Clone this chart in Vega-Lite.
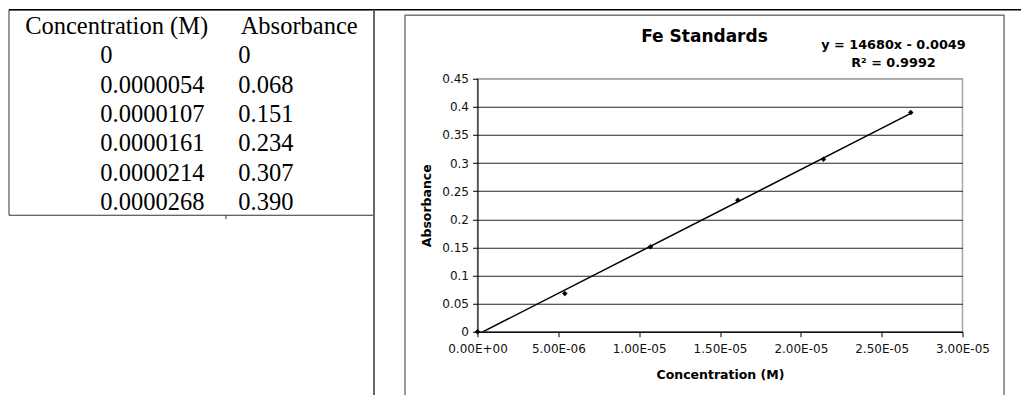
{
  "$schema": "https://vega.github.io/schema/vega-lite/v6.json",
  "padding": {"left": 7.5, "top": 8.75, "right": 0, "bottom": 0},
  "background": "white",
  "width": 485,
  "height": 253,
  "view": {"stroke": "#a6a6a6", "strokeWidth": 1.5},
  "config": {
    "font": "DejaVu Sans",
    "axis": {
      "labelFont": "DejaVu Sans", "labelFontSize": 12, "labelColor": "#111111",
      "titleFont": "DejaVu Sans", "titleFontSize": 12.5, "titleFontWeight": "bold", "titleColor": "black",
      "domainColor": "black", "domainWidth": 1, "tickColor": "black", "tickSize": 5, "tickWidth": 1,
      "labelFlush": false, "labelOverlap": false
    }
  },
  "datasets": {
    "standards": [
      {"conc": 0, "absorbance": 0, "conc_label": "0", "abs_label": "0"},
      {"conc": 0.0000054, "absorbance": 0.068, "conc_label": "0.0000054", "abs_label": "0.068"},
      {"conc": 0.0000107, "absorbance": 0.151, "conc_label": "0.0000107", "abs_label": "0.151"},
      {"conc": 0.0000161, "absorbance": 0.234, "conc_label": "0.0000161", "abs_label": "0.234"},
      {"conc": 0.0000214, "absorbance": 0.307, "conc_label": "0.0000214", "abs_label": "0.307"},
      {"conc": 0.0000268, "absorbance": 0.390, "conc_label": "0.0000268", "abs_label": "0.390"}
    ],
    "headers": [{"header": "Concentration (M)"}, {"header": "Absorbance"}],
    "one": [{"item": "decoration"}]
  },
  "resolve": {"scale": {"x": "independent", "y": "independent"}, "axis": {"x": "independent", "y": "independent"}},
  "layer": [
    {
      "layer": [
        {
          "data": {"name": "standards"},
          "mark": {"type": "text", "align": "left", "baseline": "middle", "font": "Liberation Serif", "fontSize": 24.5, "color": "black", "dy": 2.5},
          "encoding": {
            "x": {"datum": "Concentration (M)", "type": "nominal", "scale": {"type": "band", "domain": ["Concentration (M)", "Absorbance"], "range": [-468.5, -103.5], "paddingInner": 0, "paddingOuter": 0}, "axis": null},
            "y": {"field": "conc_label", "type": "nominal", "scale": {"type": "band", "domain": ["Concentration (M)", "0", "0.0000054", "0.0000107", "0.0000161", "0.0000214", "0.0000268"], "range": [-69, 136.5], "paddingInner": 0, "paddingOuter": 0}, "axis": null},
            "text": {"field": "conc_label"}
          }
        },
        {
          "data": {"name": "standards"},
          "mark": {"type": "text", "align": "left", "baseline": "middle", "font": "Liberation Serif", "fontSize": 24.5, "color": "black", "dx": -44.5, "dy": 2.5},
          "encoding": {
            "x": {"datum": "Absorbance", "type": "nominal", "axis": null},
            "y": {"field": "conc_label", "type": "nominal", "axis": null},
            "text": {"field": "abs_label"}
          }
        },
        {
          "data": {"name": "headers"},
          "mark": {"type": "text", "align": "center", "baseline": "middle", "font": "Liberation Serif", "fontSize": 24.5, "color": "black", "dx": 16.4, "dy": 2.5},
          "encoding": {
            "x": {"field": "header", "type": "nominal", "axis": null},
            "y": {"datum": "Concentration (M)", "type": "nominal", "axis": null},
            "text": {"field": "header"}
          }
        }
      ]
    },
    {
      "layer": [
        {
          "data": {"name": "one"},
          "mark": {"type": "rect", "fillOpacity": 0, "stroke": "#777777", "strokeWidth": 1.5, "clip": false},
          "encoding": {
            "x": {"datum": -0.000004485, "type": "quantitative", "scale": {"domain": [0, 0.00003], "nice": false, "zero": false}, "axis": null},
            "x2": {"datum": 0.00003257},
            "y": {"datum": 0.5629, "type": "quantitative", "scale": {"domain": [0, 0.45], "nice": false, "zero": false}, "axis": null},
            "y2": {"datum": -0.14}
          }
        },
        {
          "data": {"name": "one"},
          "mark": {"type": "rect", "fillOpacity": 0, "stroke": "#333333", "strokeWidth": 1, "clip": false},
          "encoding": {
            "x": {"datum": -0.00002898, "type": "quantitative", "axis": null},
            "x2": {"datum": -0.000006402},
            "y": {"datum": 0.5727, "type": "quantitative", "axis": null},
            "y2": {"datum": 0.2072}
          }
        },
        {
          "data": {"name": "one"},
          "mark": {"type": "rule", "color": "#333333", "strokeWidth": 1, "clip": false},
          "encoding": {
            "x": {"datum": -0.000015558, "type": "quantitative", "axis": null},
            "y": {"datum": 0.2072, "type": "quantitative", "axis": null},
            "y2": {"datum": 0.2}
          }
        },
        {
          "data": {"name": "one"},
          "mark": {"type": "rule", "color": "black", "strokeWidth": 1.5, "clip": false},
          "encoding": {
            "x": {"datum": -0.00002898, "type": "quantitative", "axis": null},
            "x2": {"datum": 0.0000345},
            "y": {"datum": 0.5727, "type": "quantitative", "axis": null}
          }
        },
        {
          "data": {"name": "one"},
          "mark": {"type": "rule", "color": "#666666", "strokeWidth": 2, "clip": false},
          "encoding": {
            "x": {"datum": -0.000006402, "type": "quantitative", "axis": null},
            "y": {"datum": 0.5727, "type": "quantitative", "axis": null},
            "y2": {"datum": -0.14}
          }
        },
        {
          "data": {"name": "one"},
          "mark": {"type": "text", "text": "Fe Standards", "font": "DejaVu Sans", "fontSize": 17, "fontWeight": "bold", "color": "black", "align": "center", "baseline": "middle", "clip": false},
          "encoding": {
            "x": {"datum": 0.00001404, "type": "quantitative", "axis": null},
            "y": {"datum": 0.5238, "type": "quantitative", "axis": null}
          }
        },
        {
          "data": {"name": "one"},
          "mark": {"type": "text", "text": ["y = 14680x - 0.0049", "R² = 0.9992"], "font": "DejaVu Sans", "fontSize": 12.8, "fontWeight": "bold", "lineHeight": 18, "color": "black", "align": "center", "baseline": "middle", "clip": false},
          "encoding": {
            "x": {"datum": 0.00002573, "type": "quantitative", "axis": null},
            "y": {"datum": 0.5096, "type": "quantitative", "axis": null}
          }
        }
      ]
    },
    {
      "layer": [
        {
          "data": {"name": "standards"},
          "mark": {"type": "point", "shape": "diamond", "filled": true, "color": "black", "size": 30, "opacity": 1},
          "encoding": {
            "x": {
              "field": "conc", "type": "quantitative",
              "scale": {"domain": [0, 0.00003], "nice": false, "zero": false},
              "axis": {
                "values": [0, 0.000005, 0.00001, 0.000015, 0.00002, 0.000025, 0.00003],
                "labelExpr": "slice(upper(format(datum.value, '.2e')), 0, -1) + '0' + slice(upper(format(datum.value, '.2e')), -1)",
                "grid": false, "labelPadding": 7,
                "title": "Concentration (M)", "titlePadding": 14
              }
            },
            "y": {
              "field": "absorbance", "type": "quantitative",
              "scale": {"domain": [0, 0.45], "nice": false, "zero": false},
              "axis": {
                "values": [0, 0.05, 0.1, 0.15, 0.2, 0.25, 0.3, 0.35, 0.4, 0.45],
                "format": "~g",
                "grid": true,
                "gridColor": {"condition": {"test": "datum.value > 0.44", "value": "#a6a6a6"}, "value": "#262626"},
                "gridWidth": 1, "labelPadding": 4,
                "title": "Absorbance", "titlePadding": 8
              }
            }
          }
        },
        {
          "data": {"name": "standards"},
          "transform": [{"regression": "absorbance", "on": "conc", "extent": [0, 0.0000268]}],
          "mark": {"type": "line", "color": "black", "strokeWidth": 1.5, "clip": true},
          "encoding": {
            "x": {
              "field": "conc", "type": "quantitative",
              "axis": {
                "values": [0, 0.000005, 0.00001, 0.000015, 0.00002, 0.000025, 0.00003],
                "labelExpr": "slice(upper(format(datum.value, '.2e')), 0, -1) + '0' + slice(upper(format(datum.value, '.2e')), -1)",
                "grid": false, "labelPadding": 7,
                "title": "Concentration (M)", "titlePadding": 14
              }
            },
            "y": {
              "field": "absorbance", "type": "quantitative",
              "axis": {
                "values": [0, 0.05, 0.1, 0.15, 0.2, 0.25, 0.3, 0.35, 0.4, 0.45],
                "format": "~g",
                "grid": true,
                "gridColor": {"condition": {"test": "datum.value > 0.44", "value": "#a6a6a6"}, "value": "#262626"},
                "gridWidth": 1, "labelPadding": 4,
                "title": "Absorbance", "titlePadding": 8
              }
            }
          }
        }
      ]
    }
  ]
}
